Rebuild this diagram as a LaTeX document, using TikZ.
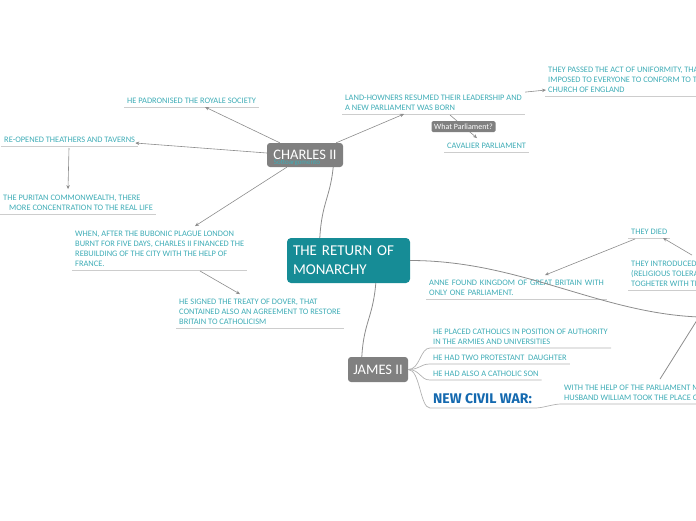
\documentclass[tikz,border=0pt]{standalone}
\usepackage{fontspec}
\setmainfont{Carlito}
\newfontfamily\warfont{Fira Sans}
\usepackage{xcolor}
\usepackage{tikz}
\usetikzlibrary{arrows.meta,calc}
\definecolor{mmteal}{RGB}{22,140,150}
\definecolor{mmgray}{RGB}{128,128,128}
\definecolor{subtxt}{RGB}{62,172,182}
\definecolor{warblue}{RGB}{20,105,175}
\definecolor{uline}{RGB}{205,205,205}
\definecolor{wire}{RGB}{140,140,140}

\begin{document}
\begin{tikzpicture}[x=1pt, y=-1pt,
    main/.style={fill=mmteal, rounded corners=4pt, text=white, font=\fontsize{15}{19}\selectfont, align=left, text width=111pt, minimum height=45pt, inner xsep=6pt},
    topic/.style={fill=mmgray, rounded corners=3pt, text=white, font=\fontsize{14.5}{16}\selectfont, inner sep=0pt},
    sub/.style={anchor=south west, text=subtxt, font=\fontsize{8.4}{10}\selectfont, align=left, inner xsep=3pt, inner ysep=3pt},
    tag/.style={fill=mmgray, rounded corners=1.5pt, text=white, font=\fontsize{8}{9}\selectfont, minimum width=64pt, minimum height=11pt, inner sep=0pt},
    arr/.style={-{Stealth[length=4pt,width=3.5pt]}, draw=wire, line width=0.6pt},
    branch/.style={draw=wire, line width=0.8pt},
    jline/.style={draw=black!30, line width=0.7pt},
    under/.style={draw=uline, line width=0.8pt},
]
\useasboundingbox (0,0) rectangle (696,520);

% main topics
\node[main] (monarchy) at (348.5,260.5) {THE RETURN OF\\MONARCHY};
\node[topic, minimum width=76pt, minimum height=24pt] (charles) at (305,155) {CHARLES II};
\node[font=\fontsize{7}{8}\selectfont, text=subtxt] (stub) at (297,163) {Sottoargomento};
\node[topic, minimum width=60pt, minimum height=25pt] (james) at (378,369.5) {JAMES II};
\coordinate (offtopic) at (699,317);

% charles II
\node[sub] (royal) at (124,107) {HE PADRONISED THE ROYALE SOCIETY};
\node[sub] (theatres) at (1,146) {RE-OPENED THEATHERS AND TAVERNS};
\node[sub] (puritan) at (0,214) {THE PURITAN COMMONWEALTH, THERE\\\hspace{6pt}MORE CONCENTRATION TO THE REAL LIFE};
\node[sub] (plague) at (72,270) {WHEN, AFTER THE BUBONIC PLAGUE LONDON\\BURNT FOR FIVE DAYS, CHARLES II FINANCED THE\\REBUILDING OF THE CITY WITH THE HELP OF\\FRANCE.};
\node[sub] (dover) at (176,328) {HE SIGNED THE TREATY OF DOVER, THAT\\CONTAINED ALSO AN AGREEMENT TO RESTORE\\BRITAIN TO CATHOLICISM};
\node[sub] (landowners) at (342,114) {LAND-HOWNERS RESUMED THEIR LEADERSHIP AND\\A NEW PARLIAMENT WAS BORN};
\node[sub] (uniformity) at (545,96) {THEY PASSED THE ACT OF UNIFORMITY, THA\\IMPOSED TO EVERYONE TO CONFORM TO TH\\CHURCH OF ENGLAND};
\node[sub] (cavalier) at (444,152) {CAVALIER PARLIAMENT};

% right side
\node[sub, text width=175pt] (anne) at (426,299) {ANNE FOUND KINGDOM OF GREAT BRITAIN WITH\\ONLY ONE PARLIAMENT.};
\node[sub] (died) at (628,238) {THEY DIED};
\node[sub] (tolerance) at (628,290) {THEY INTRODUCED\\(RELIGIOUS TOLERA\\TOGHETER WITH TH};

% james II
\node[sub] (placed) at (430,348) {HE PLACED CATHOLICS IN POSITION OF AUTHORITY\\IN THE ARMIES AND UNIVERSITIES};
\node[sub] (daughters) at (430,364) {HE HAD TWO PROTESTANT\ \ DAUGHTER};
\node[sub] (son) at (430,380) {HE HAD ALSO A CATHOLIC SON};
\node[sub, inner ysep=4pt, text=warblue, font=\warfont\bfseries\fontsize{14}{16}\selectfont] (civil) at (430,408) {NEW CIVIL WAR:};
\node[sub] (help) at (561,404) {WITH THE HELP OF THE PARLIAMENT M\\HUSBAND WILLIAM TOOK THE PLACE O};

% underlines
\draw[under] (royal.south west) -- (royal.south east);
\draw[under] (theatres.south west) -- (theatres.south east);
\draw[under] (puritan.south west) -- (puritan.south east);
\draw[under] (plague.south west) -- (plague.south east);
\draw[under] (dover.south west) -- (dover.south east);
\draw[under] (landowners.south west) -- (landowners.south east);
\draw[under] (uniformity.south west) -- (uniformity.south east);
\draw[under] (cavalier.south west) -- (cavalier.south east);
\draw[under] (anne.south west) -- (anne.south east);
\draw[under] (died.south west) -- (died.south east);
\draw[under] (tolerance.south west) -- (tolerance.south east);

% branches
\draw[branch] ($(monarchy.north west)+(33,0)$) .. controls +(2,-35) and +(-3,30) .. ($(charles.south east)+(-10,0)$);
\draw[branch] ($(monarchy.south west)+(89,0)$) .. controls +(-3,35) and +(2,-35) .. ($(james.north west)+(14,0)$);
\draw[branch] (monarchy.east) .. controls +(110,0) and +(-100,-4) .. (offtopic);
\draw[branch] ($(help.north west)+(99,-3)$) -- (offtopic);

\draw[jline] (james.east) .. controls +(12,0) and +(-10,0) .. (placed.south west) -- (placed.south east);
\draw[jline] (james.east) .. controls +(12,0) and +(-10,0) .. (daughters.south west) -- (daughters.south east);
\draw[jline] (james.east) .. controls +(12,0) and +(-10,0) .. (son.south west) -- (son.south east);
\draw[jline] (james.east) .. controls +(12,0) and +(-10,0) .. (civil.south west) -- (civil.south east)
    .. controls +(8,0) and +(-8,0) .. (help.south west) -- (help.south east);

% arrows
\draw[arr] ($(charles.north west)+(13,0)$) -- ($(royal.south west)+(81,0)$);
\draw[arr] ($(charles.west)+(0,-2)$) -- ($(theatres.south east)+(-3,-3)$);
\draw[arr] ($(theatres.south west)+(68,2)$) -- ($(puritan.north west)+(68,-3)$);
\draw[arr] ($(charles.south west)+(20,0)$) -- ($(plague.north west)+(123,-2)$);
\draw[arr] ($(plague.south west)+(128,1)$) -- ($(dover.north west)+(64,-2)$);
\draw[arr] ($(charles.north east)+(-7,0)$) -- ($(landowners.south west)+(62,0)$);
\draw[arr] (landowners.north east) -- ($(uniformity.south west)+(1,-6)$);
\draw[arr] ($(landowners.south west)+(108,1)$) -- node[tag] (what) {What Parliament?} ($(cavalier.north west)+(33,-2)$);
\draw[arr] ($(died.south west)+(7,1)$) -- ($(anne.north west)+(119,-2)$);
\draw[arr] ($(tolerance.north west)+(64,-3)$) -- ($(died.south west)+(35,0)$);
\end{tikzpicture}
\end{document}
